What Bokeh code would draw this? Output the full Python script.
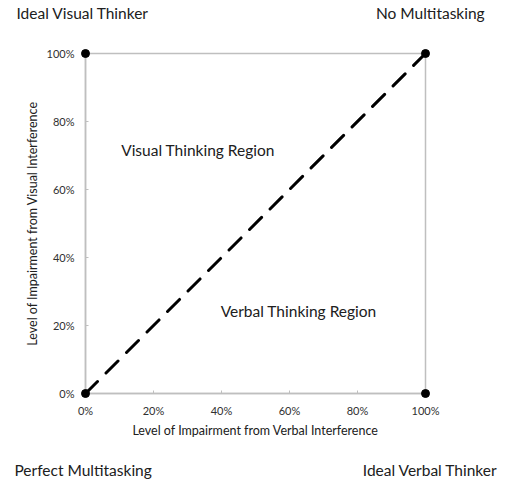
from bokeh.plotting import figure
from bokeh.models import Range1d, FixedTicker, Label
from bokeh.core.properties import value
from bokeh.embed import file_html
from bokeh.resources import INLINE

# ---- data ----
diag_x = [0.0, 1.0]
diag_y = [0.0, 1.0]
corner_x = [0.0, 0.0, 1.0, 1.0]
corner_y = [0.0, 1.0, 1.0, 0.0]
tick_values = [0.0, 0.2, 0.4, 0.6, 0.8, 1.0]
tick_labels = ["0%", "20%", "40%", "60%", "80%", "100%"]
x_title = "Level of Impairment from Verbal Interference"
y_title = "Level of Impairment from Visual Interference"
region_texts = ["Visual Thinking Region", "Verbal Thinking Region"]
corner_texts = ["Ideal Visual Thinker", "No Multitasking", "Perfect Multitasking", "Ideal Verbal Thinker"]

# ---- layout positions (data units) ----
region_x = [0.331, 0.627]
region_y = [0.715, 0.244]
corner_lx = [-0.203, 1.174, -0.209, 1.212]
corner_ly = [1.118, 1.118, -0.226, -0.226]
corner_al = ["left", "right", "left", "right"]

FONT = "Lato"
GRAY = "#BFBFBF"

p = figure(width=505, height=479, output_backend="svg", toolbar_location=None,
           x_range=Range1d(0, 1), y_range=Range1d(0, 1),
           min_border_left=85, min_border_right=80, min_border_top=53, min_border_bottom=86)
p.background_fill_color = "white"
p.border_fill_color = "white"
p.outline_line_color = GRAY
p.outline_line_width = 1.5
p.xgrid.visible = False
p.ygrid.visible = False

labels_map = {v: t for v, t in zip(tick_values, tick_labels)}
for ax in (p.xaxis[0], p.yaxis[0]):
    ax.ticker = FixedTicker(ticks=tick_values)
    ax.major_label_overrides = labels_map
    ax.axis_line_color = GRAY
    ax.axis_line_width = 1.5
    ax.major_tick_line_color = GRAY
    ax.major_tick_in = 3
    ax.major_tick_out = 0
    ax.minor_tick_line_color = None
    ax.major_label_text_font = FONT
    ax.major_label_text_font_size = "11px"
    ax.major_label_text_color = "#303030"
    ax.axis_label_text_font = FONT
    ax.axis_label_text_font_size = "12.5px"
    ax.axis_label_text_font_style = "normal"
    ax.axis_label_text_color = "#202020"

p.xaxis.axis_label = x_title
p.yaxis.axis_label = y_title
p.xaxis.major_label_standoff = 10
p.xaxis.axis_label_standoff = 3
p.yaxis.major_label_standoff = 11
p.yaxis.axis_label_standoff = 4

p.line(diag_x, diag_y, line_color="black", line_width=3, line_dash="17 12", line_cap="round")
r = p.scatter(corner_x, corner_y, size=8, color="black")
r.level = "overlay"

for t, x, y in zip(region_texts, region_x, region_y):
    p.add_layout(Label(x=x, y=y, text=t, text_font=FONT, text_font_size="15.5px",
                       text_color="#202020", text_align="center", text_baseline="middle"))

for i, al in enumerate(corner_al):
    tr = p.text(x=[corner_lx[i]], y=[corner_ly[i]], text=[corner_texts[i]],
                text_font=value(FONT), text_font_size="15.5px", text_color="#202020",
                text_align=al, text_baseline="middle")
    tr.level = "overlay"

open("out.html", "w").write(file_html(p, INLINE))
